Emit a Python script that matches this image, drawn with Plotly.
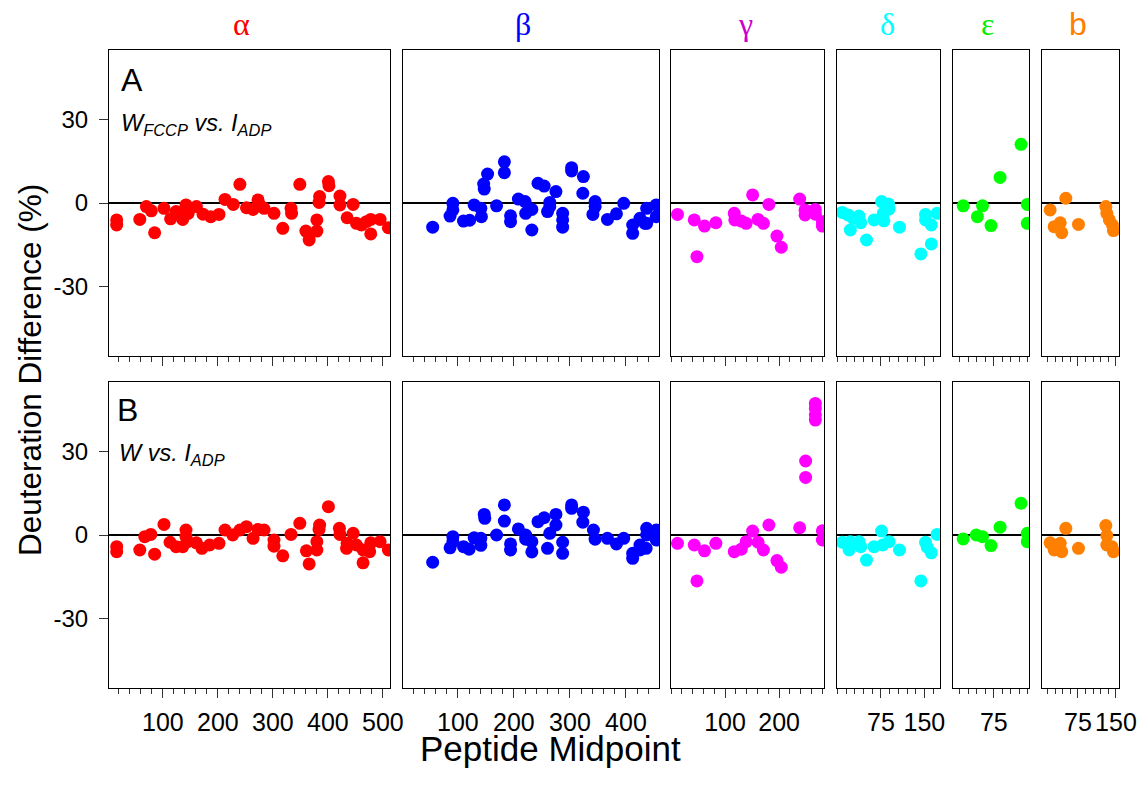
import plotly.graph_objects as go

# Panel A: W_FCCP vs. I_ADP  (peptide midpoint, deuteration difference %)
alpha_x_A = [16, 16, 58, 70, 79, 85, 102, 114, 124, 136, 142, 142, 146, 161, 173, 187, 202, 213, 228, 240,
             252, 264, 273, 276, 284, 302, 318, 333, 334, 349, 360, 366, 380, 380, 384, 385, 401, 402, 422, 422,
             435, 446, 452, 461, 470, 478, 478, 495, 510]
alpha_y_A = [-6.1, -7.9, -5.9, -1.3, -2.8, -10.7, -1.9, -5.7, -3.1, -5.9, -0.7, -2.5, -3.7, -1.3, -4.0, -4.9, -4.1, 1.3, -0.5, 6.7,
             -1.7, -2.3, 1.1, -0.7, -1.9, -3.7, -9.1, -1.9, -3.7, 6.7, -10.1, -13.3, -10.1, -6.1, 0.2, 2.3, 7.7, 6.2, 2.5, -0.7,
             -5.3, -0.5, -7.3, -7.9, -6.7, -11.1, -5.9, -5.9, -8.9]
beta_x_A = [55, 91, 91, 86, 110, 121, 129, 141, 142, 146, 147, 153, 169, 183, 183, 194, 194, 208, 220, 221,
            232, 232, 243, 254, 264, 264, 260, 275, 287, 287, 287, 303, 303, 324, 323, 345, 345, 341, 367, 383,
            396, 412, 412, 425, 434, 437, 437, 454, 454]
beta_y_A = [-8.7, -0.1, -2.5, -4.7, -6.5, -6.2, -0.7, -1.9, -4.9, 6.8, 5.0, 10.4, -1.0, 14.8, 10.9, -4.6, -6.7, 1.4, 0.5, -3.7,
            -2.3, -9.7, 7.1, 6.1, 0.2, -1.3, -3.1, 4.1, -3.7, -6.1, -8.7, 12.7, 11.5, 9.5, 3.5, 0.5, -1.3, -4.1, -5.9, -3.9,
            -0.1, -7.9, -10.9, -5.5, -7.3, -1.9, -7.3, -0.7, -4.9]
gamma_x_A = [12, 43, 48, 62, 83, 117, 118, 130, 139, 151, 161, 171, 181, 196, 204, 238, 248, 248, 267, 267, 280, 280]
gamma_y_A = [-4.1, -6.1, -19.3, -8.3, -7.1, -3.7, -6.1, -6.5, -7.3, 2.9, -5.9, -7.3, -0.5, -11.9, -15.9, 1.4, -2.5, -4.3,
             -2.3, -4.0, -6.7, -8.3]
delta_x_A = [8, 18, 22, 27, 37, 40, 50, 63, 76, 79, 80, 88, 89, 107, 144, 152, 152, 162, 162, 172]
delta_y_A = [-3.4, -4.3, -9.7, -5.5, -4.7, -7.1, -13.3, -6.1, 0.5, -3.7, -6.4, -0.4, -2.2, -8.7, -18.3, -4.1, -6.1, -7.9,
             -14.7, -3.7]
eps_x_A = [21, 46, 55, 70, 86, 123, 134, 134]
eps_y_A = [-1.0, -4.9, -1.0, -8.1, 9.2, 21.1, -0.5, -7.3]
b_x_A = [20, 28, 40, 43, 51, 76, 130, 132, 137, 143, 145]
b_y_A = [-2.5, -8.5, -7.1, -10.7, 1.7, -7.7, -1.3, -3.7, -6.1, -7.9, -9.9]

# Panel B: W vs. I_ADP
alpha_x_B = [16, 16, 58, 67, 78, 85, 102, 113, 124, 136, 142, 142, 145, 161, 171, 185, 202, 213, 227, 240,
             252, 264, 273, 284, 302, 302, 318, 333, 349, 361, 366, 380, 380, 384, 385, 401, 421, 422, 434, 435,
             446, 452, 464, 464, 476, 478, 495, 510]
alpha_y_B = [-4.2, -6.0, -5.4, -0.6, 0.2, -6.9, 3.8, -2.6, -4.2, -4.2, 1.8, -0.6, -2.4, -2.8, -4.8, -3.6, -3.0, 1.8, 0.0, 1.8,
             3.0, -1.2, 2.0, 1.8, -1.8, -4.0, -7.5, 0.2, 4.2, -5.7, -10.4, -5.4, -2.4, 2.0, 3.6, 10.2, 2.4, 0.2, -4.8, -3.0,
             0.6, -3.6, -5.4, -10.0, -6.0, -2.8, -2.4, -5.4]
beta_x_B = [55, 91, 86, 91, 110, 120, 129, 141, 141, 147, 148, 169, 183, 183, 194, 194, 208, 221, 221, 232,
            232, 243, 254, 260, 264, 275, 275, 287, 287, 303, 303, 324, 323, 342, 345, 367, 383, 396, 412, 412,
            425, 425, 436, 437, 437, 454, 454]
beta_y_B = [-9.8, -0.6, -4.6, -2.4, -4.2, -5.1, -1.0, -1.2, -3.7, 7.4, 6.0, 0.0, 10.8, 5.0, -3.2, -5.4, 2.2, 0.0, -1.5, -2.4,
            -6.1, 4.8, 6.2, -4.8, 0.6, 7.4, 3.6, -2.6, -6.6, 10.8, 9.6, 8.2, 4.6, 1.8, -1.5, -1.2, -3.2, -1.2, -6.6, -8.4,
            -3.6, -5.4, -4.8, 2.4, 0.0, 1.8, -1.8]
gamma_x_B = [12, 43, 48, 62, 83, 117, 130, 139, 151, 161, 171, 181, 196, 204, 238, 249, 249, 267, 267, 267, 267, 280, 280]
gamma_y_B = [-3.0, -3.6, -16.5, -5.7, -3.0, -6.0, -5.1, -2.4, 1.4, -2.6, -5.4, 3.6, -9.2, -11.6, 2.6, 26.6, 20.7,
             47.3, 45.5, 43.1, 41.3, 1.5, -1.8]
delta_x_B = [8, 20, 22, 37, 40, 50, 63, 76, 78, 89, 107, 144, 152, 155, 162, 172]
delta_y_B = [-2.6, -5.4, -2.4, -2.4, -4.2, -9.0, -4.2, 1.4, -3.6, -2.4, -5.4, -16.5, -2.6, -4.4, -6.4, 0.2]
eps_x_B = [21, 44, 55, 70, 86, 123, 134, 134]
eps_y_B = [-1.4, 0.0, -0.6, -3.8, 2.8, 11.4, 0.6, -2.4]
b_x_B = [20, 28, 40, 43, 51, 76, 130, 132, 132, 142, 145]
b_y_B = [-2.8, -5.4, -3.0, -6.0, 2.4, -4.8, 3.4, -0.2, -3.6, -4.2, -6.0]

subunits = ['α', 'β', 'γ', 'δ', 'ε', 'b']
y_ticks = [-30, 0, 30]
x_ticks = [[100, 200, 300, 400, 500], [100, 200, 300, 400], [100, 200], [75, 150], [75], [75, 150]]

rows = [
    [(alpha_x_A, alpha_y_A), (beta_x_A, beta_y_A), (gamma_x_A, gamma_y_A),
     (delta_x_A, delta_y_A), (eps_x_A, eps_y_A), (b_x_A, b_y_A)],
    [(alpha_x_B, alpha_y_B), (beta_x_B, beta_y_B), (gamma_x_B, gamma_y_B),
     (delta_x_B, delta_y_B), (eps_x_B, eps_y_B), (b_x_B, b_y_B)],
]

# the page keeps its default 8px body margin, so the figure is 16px smaller
# than the window and positions below are written in window pixels
OFF = 8
FW, FH = 1146 - 2 * OFF, 796 - 2 * OFF
FONT = 'Arial, Liberation Sans, sans-serif'


def px(x):
    return (x - OFF) / FW


def py(y):
    return 1 - (y - OFF) / FH


# layout of each column: pixel extents, x range, minor tick spacing
cols = [
    dict(color='#FF0000', head='#FF0000', px=(109, 390), xr=[2, 513], mdt=20),
    dict(color='#0000FF', head='#0000FF', px=(403, 659), xr=[2, 459], mdt=20),
    dict(color='#FF00FF', head='#CC00CC', px=(671, 824), xr=[0, 283], mdt=20),
    dict(color='#00FFFF', head='#00FFFF', px=(837, 940), xr=[-1, 177], mdt=15),
    dict(color='#00FF00', head='#00EE00', px=(953, 1029), xr=[3, 137], mdt=15),
    dict(color='#FF7F00', head='#FF7F00', px=(1042, 1119), xr=[4, 156], mdt=15),
]
row_px = [(50, 356), (382, 688)]

fig = go.Figure()
layout = {}

for r in range(2):
    y0, y1 = row_px[r]
    for c, col in enumerate(cols):
        idx = r * 6 + c + 1
        sfx = '' if idx == 1 else str(idx)
        xs, ys = rows[r][c]
        fig.add_trace(go.Scatter(
            x=xs, y=ys, mode='markers',
            xaxis='x' + sfx, yaxis='y' + sfx,
            marker=dict(color=col['color'], size=13, line=dict(width=0)),
            showlegend=False, hoverinfo='x+y',
        ))
        layout['xaxis' + sfx] = dict(
            domain=[px(col['px'][0]), px(col['px'][1])],
            anchor='y' + sfx, range=col['xr'], automargin=False,
            showline=True, mirror=True, linecolor='black', linewidth=1,
            showgrid=False, zeroline=False,
            ticks='outside', ticklen=9, tickwidth=1, tickcolor='#333',
            tickmode='array', tickvals=x_ticks[c], ticktext=[str(v) for v in x_ticks[c]],
            tickangle=0,
            minor=dict(tickmode='linear', dtick=col['mdt'], tick0=0, ticks='outside', ticklen=5,
                       tickwidth=1, tickcolor='#333', showgrid=False),
            showticklabels=(r == 1),
            tickfont=dict(family=FONT, size=25, color='black'),
            ticklabelstandoff=3,
        )
        layout['yaxis' + sfx] = dict(
            domain=[py(y1), py(y0)], anchor='x' + sfx, range=[-55, 55], automargin=False,
            showline=True, mirror=True, linecolor='black', linewidth=1,
            showgrid=False,
            zeroline=True, zerolinecolor='black', zerolinewidth=1.5,
            tickmode='array',
            tickvals=y_ticks if c == 0 else [],
            ticktext=[str(v) for v in y_ticks] if c == 0 else [],
            ticks='outside' if c == 0 else '', ticklen=9, tickwidth=1, tickcolor='#333',
            showticklabels=(c == 0),
            tickfont=dict(family=FONT, size=24, color='black'),
            ticklabelstandoff=6,
        )

annotations = []
head_x = [241, 523, 745, 887, 987, 1078]
for c, col in enumerate(cols):
    name = subunits[c]
    fam = FONT if name == 'b' else 'Liberation Serif, DejaVu Serif, serif'
    annotations.append(dict(
        x=px(head_x[c]), y=py(24), text=name,
        xanchor='center', yanchor='middle',
        font=dict(family=fam, size=32, color=col['head']),
    ))

annotations += [
    dict(x=px(119), y=py(80), text='A', xanchor='left', yanchor='middle',
         font=dict(family=FONT, size=32, color='black')),
    dict(x=px(119), y=py(124), text='<i>W<sub>FCCP</sub> vs. I<sub>ADP</sub></i>',
         xanchor='left', yanchor='middle', font=dict(family=FONT, size=23.5, color='black')),
    dict(x=px(115), y=py(410), text='B', xanchor='left', yanchor='middle',
         font=dict(family=FONT, size=32, color='black')),
    dict(x=px(117), y=py(455), text='<i>W vs. I<sub>ADP</sub></i>',
         xanchor='left', yanchor='middle', font=dict(family=FONT, size=23.5, color='black')),
    dict(x=px(30), y=py(370), text='Deuteration Difference (%)', textangle=-90,
         xanchor='center', yanchor='middle', font=dict(family=FONT, size=31.5, color='black')),
    dict(x=px(550), y=py(748), text='Peptide Midpoint',
         xanchor='center', yanchor='middle', font=dict(family=FONT, size=35, color='black')),
]
for a in annotations:
    a['xref'] = 'paper'
    a['yref'] = 'paper'
    a['showarrow'] = False

fig.update_layout(
    width=FW, height=FH, autosize=False,
    margin=dict(l=0, r=0, t=0, b=0, autoexpand=False),
    paper_bgcolor='white', plot_bgcolor='white',
    annotations=annotations,
    **layout,
)

fig.write_html('out.html', config={'displayModeBar': False})
